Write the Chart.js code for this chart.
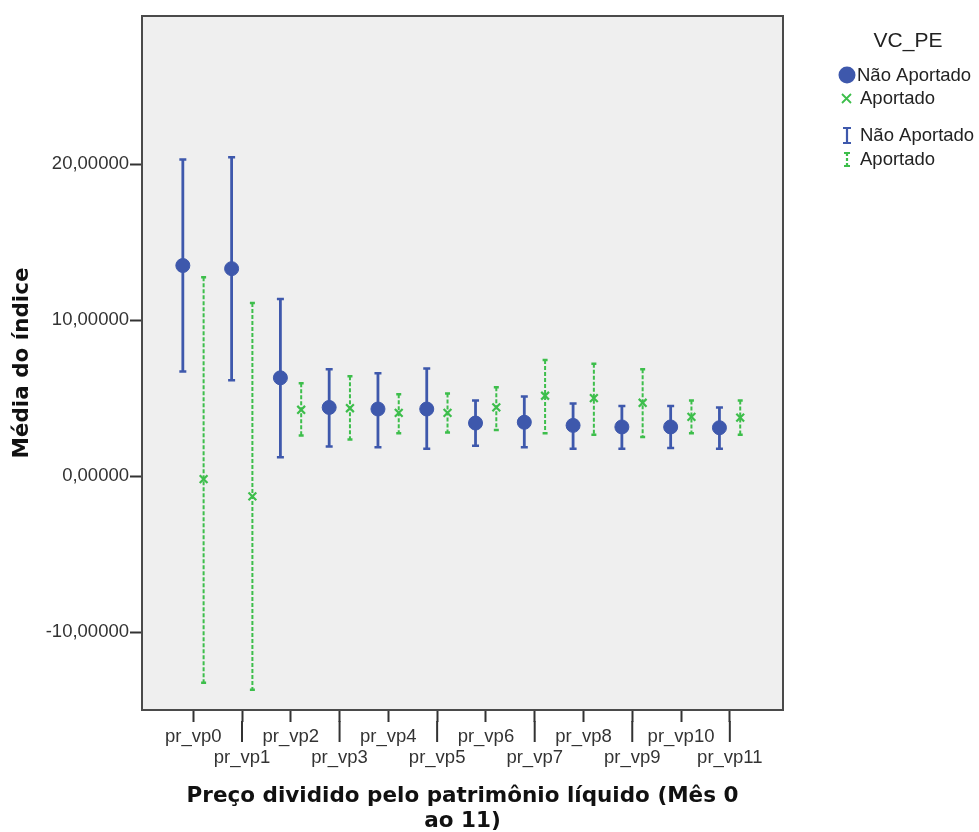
<!DOCTYPE html>
<html>
<head>
<meta charset="utf-8">
<script src="https://cdn.jsdelivr.net/npm/chart.js@4.4.1/dist/chart.umd.min.js"></script>
<style>
  html, body { margin: 0; padding: 0; background: #fff; }
  #wrap { width: 979px; height: 832px; }
</style>
</head>
<body>
<div id="wrap"><canvas id="chart"></canvas></div>
<script>
const categories = ["pr_vp0", "pr_vp1", "pr_vp2", "pr_vp3", "pr_vp4", "pr_vp5",
                    "pr_vp6", "pr_vp7", "pr_vp8", "pr_vp9", "pr_vp10", "pr_vp11"];

// Não Aportado: média e intervalo
const naoMean = [13.5, 13.3, 6.3, 4.4, 4.3, 4.3, 3.4, 3.45, 3.25, 3.15, 3.15, 3.1];
const naoLow  = [6.7, 6.15, 1.2, 1.9, 1.85, 1.75, 1.95, 1.85, 1.75, 1.75, 1.8, 1.75];
const naoHigh = [20.3, 20.45, 11.35, 6.85, 6.6, 6.9, 4.85, 5.1, 4.65, 4.5, 4.5, 4.4];

// Aportado: média e intervalo
const apMean = [-0.2, -1.3, 4.25, 4.35, 4.05, 4.05, 4.4, 5.15, 5.0, 4.7, 3.8, 3.75];
const apLow  = [-13.25, -13.7, 2.6, 2.35, 2.75, 2.8, 2.95, 2.75, 2.65, 2.5, 2.75, 2.65];
const apHigh = [12.75, 11.1, 5.95, 6.4, 5.25, 5.3, 5.7, 7.45, 7.2, 6.85, 4.85, 4.85];

const yTicks = [-10, 0, 10, 20];

const BLUE = "#3E58AC";
const GREEN = "#3DBE4B";
const OFFSET = 0.213;

const plotFrame = {
  id: "plotFrame",
  beforeDraw(chart) {
    const { ctx, chartArea: a } = chart;
    ctx.save();
    ctx.fillStyle = "#EFEFEF";
    ctx.fillRect(a.left, a.top, a.right - a.left, a.bottom - a.top);
    ctx.restore();
  },
  afterDraw(chart) {
    const { ctx, chartArea: a } = chart;
    ctx.save();
    ctx.strokeStyle = "#4a4a4a";
    ctx.lineWidth = 2;
    ctx.strokeRect(a.left, a.top, a.right - a.left, a.bottom - a.top);
    ctx.restore();
  }
};

const errorBars = {
  id: "errorBars",
  beforeDatasetsDraw(chart) {
    const { ctx, scales: { x, y } } = chart;
    const series = [
      { low: naoLow, high: naoHigh, off: -OFFSET, color: BLUE, width: 2.8, cap: 3.5, dash: [] },
      { low: apLow, high: apHigh, off: OFFSET, color: GREEN, width: 2, cap: 2.5, dash: [4, 2] }
    ];
    ctx.save();
    series.forEach(s => {
      s.low.forEach((lo, i) => {
        const px = x.getPixelForValue(i + 1 + s.off);
        const top = y.getPixelForValue(s.high[i]);
        const bot = y.getPixelForValue(lo);
        ctx.strokeStyle = s.color;
        ctx.lineWidth = s.width;
        ctx.setLineDash(s.dash);
        ctx.beginPath();
        ctx.moveTo(px, top);
        ctx.lineTo(px, bot);
        ctx.stroke();
        ctx.setLineDash([]);
        ctx.lineWidth = 2.5;
        ctx.beginPath();
        ctx.moveTo(px - s.cap, top); ctx.lineTo(px + s.cap, top);
        ctx.moveTo(px - s.cap, bot); ctx.lineTo(px + s.cap, bot);
        ctx.stroke();
      });
    });
    ctx.restore();
  }
};

const longTicks = {
  id: "longTicks",
  afterDraw(chart) {
    const { ctx, scales: { x } } = chart;
    ctx.save();
    ctx.strokeStyle = "#333";
    ctx.lineWidth = 2;
    x.ticks.forEach(t => {
      if (t.value % 2 === 0) {
        const px = x.getPixelForValue(t.value);
        ctx.beginPath();
        ctx.moveTo(px, x.top + 11);
        ctx.lineTo(px, x.top + 32);
        ctx.stroke();
      }
    });
    ctx.restore();
  }
};

const sideLegend = {
  id: "sideLegend",
  afterDraw(chart) {
    const { ctx } = chart;
    ctx.save();
    ctx.fillStyle = "#222";
    ctx.textBaseline = "middle";
    ctx.textAlign = "center";
    ctx.font = "21px 'Liberation Sans', Arial, sans-serif";
    ctx.fillText("VC_PE", 908, 41);
    ctx.textAlign = "left";
    ctx.font = "18.5px 'Liberation Sans', Arial, sans-serif";

    // marcador círculo
    ctx.fillStyle = BLUE;
    ctx.beginPath();
    ctx.arc(847, 75, 8.5, 0, Math.PI * 2);
    ctx.fill();
    // marcador x
    ctx.strokeStyle = GREEN;
    ctx.lineWidth = 1.8;
    ctx.beginPath();
    ctx.moveTo(842, 94); ctx.lineTo(851, 103);
    ctx.moveTo(851, 94); ctx.lineTo(842, 103);
    ctx.stroke();
    // barra azul
    ctx.strokeStyle = BLUE;
    ctx.lineWidth = 2.2;
    ctx.beginPath();
    ctx.moveTo(847, 128); ctx.lineTo(847, 143);
    ctx.moveTo(843, 128); ctx.lineTo(851, 128);
    ctx.moveTo(843, 143); ctx.lineTo(851, 143);
    ctx.stroke();
    // barra verde tracejada
    ctx.strokeStyle = GREEN;
    ctx.beginPath();
    ctx.setLineDash([3, 2]);
    ctx.moveTo(847, 153); ctx.lineTo(847, 166);
    ctx.stroke();
    ctx.setLineDash([]);
    ctx.beginPath();
    ctx.moveTo(844, 153); ctx.lineTo(850, 153);
    ctx.moveTo(844, 166); ctx.lineTo(850, 166);
    ctx.stroke();

    ctx.fillStyle = "#222";
    ctx.fillText("Não Aportado", 857, 76);
    ctx.fillText("Aportado", 860, 99);
    ctx.fillText("Não Aportado", 860, 136);
    ctx.fillText("Aportado", 860, 160);
    ctx.restore();
  }
};

new Chart(document.getElementById("chart"), {
  type: "scatter",
  data: {
    datasets: [
      {
        label: "Não Aportado",
        data: naoMean.map((v, i) => ({ x: i + 1 - OFFSET, y: v })),
        pointStyle: "circle",
        pointRadius: 7,
        backgroundColor: BLUE,
        borderColor: BLUE,
        borderWidth: 1
      },
      {
        label: "Aportado",
        data: apMean.map((v, i) => ({ x: i + 1 + OFFSET, y: v })),
        pointStyle: "crossRot",
        pointRadius: 5.5,
        borderColor: GREEN,
        backgroundColor: GREEN,
        borderWidth: 2.2
      }
    ]
  },
  options: {
    responsive: true,
    maintainAspectRatio: false,
    animation: false,
    layout: { padding: { top: 16, right: 196, left: 0, bottom: 0 } },
    plugins: {
      legend: { display: false },
      tooltip: { enabled: false }
    },
    scales: {
      x: {
        type: "linear",
        min: -0.05,
        max: 13.09,
        afterFit: (scale) => { scale.height = 122; },
        afterBuildTicks: (scale) => {
          scale.ticks = categories.map((c, i) => ({ value: i + 1 }));
        },
        grid: { drawOnChartArea: false, tickLength: 12, tickWidth: 2, tickColor: "#333" },
        border: { color: "#4a4a4a", width: 2 },
        ticks: {
          autoSkip: false,
          maxRotation: 0,
          padding: 5,
          color: "#333",
          font: { family: "'Liberation Sans', Arial, sans-serif", size: 18.5, lineHeight: 1.1 },
          callback: (v) => {
            const label = categories[v - 1];
            return (v - 1) % 2 === 1 ? ["", label] : label;
          }
        },
        title: {
          display: true,
          text: ["Preço dividido pelo patrimônio líquido (Mês 0", "ao 11)"],
          color: "#111",
          padding: { top: 0, bottom: -2 },
          font: { family: "'DejaVu Sans', sans-serif", size: 21.5, weight: "bold", lineHeight: 1.15 }
        }
      },
      y: {
        min: -15,
        max: 29.5,
        afterFit: (scale) => { scale.width = 142; },
        afterBuildTicks: (scale) => {
          scale.ticks = yTicks.map(v => ({ value: v }));
        },
        grid: { drawOnChartArea: false, tickLength: 12, tickWidth: 2, tickColor: "#333" },
        border: { color: "#4a4a4a", width: 2 },
        ticks: {
          padding: 1,
          color: "#333",
          font: { family: "'Liberation Sans', Arial, sans-serif", size: 18.5 },
          callback: (v) => v.toFixed(5).replace(".", ",")
        },
        title: {
          display: true,
          text: "Média do índice",
          color: "#111",
          padding: { top: 10, bottom: 0 },
          font: { family: "'DejaVu Sans', sans-serif", size: 21.5, weight: "bold", lineHeight: 1.2 }
        }
      }
    }
  },
  plugins: [plotFrame, errorBars, longTicks, sideLegend]
});
</script>
</body>
</html>
